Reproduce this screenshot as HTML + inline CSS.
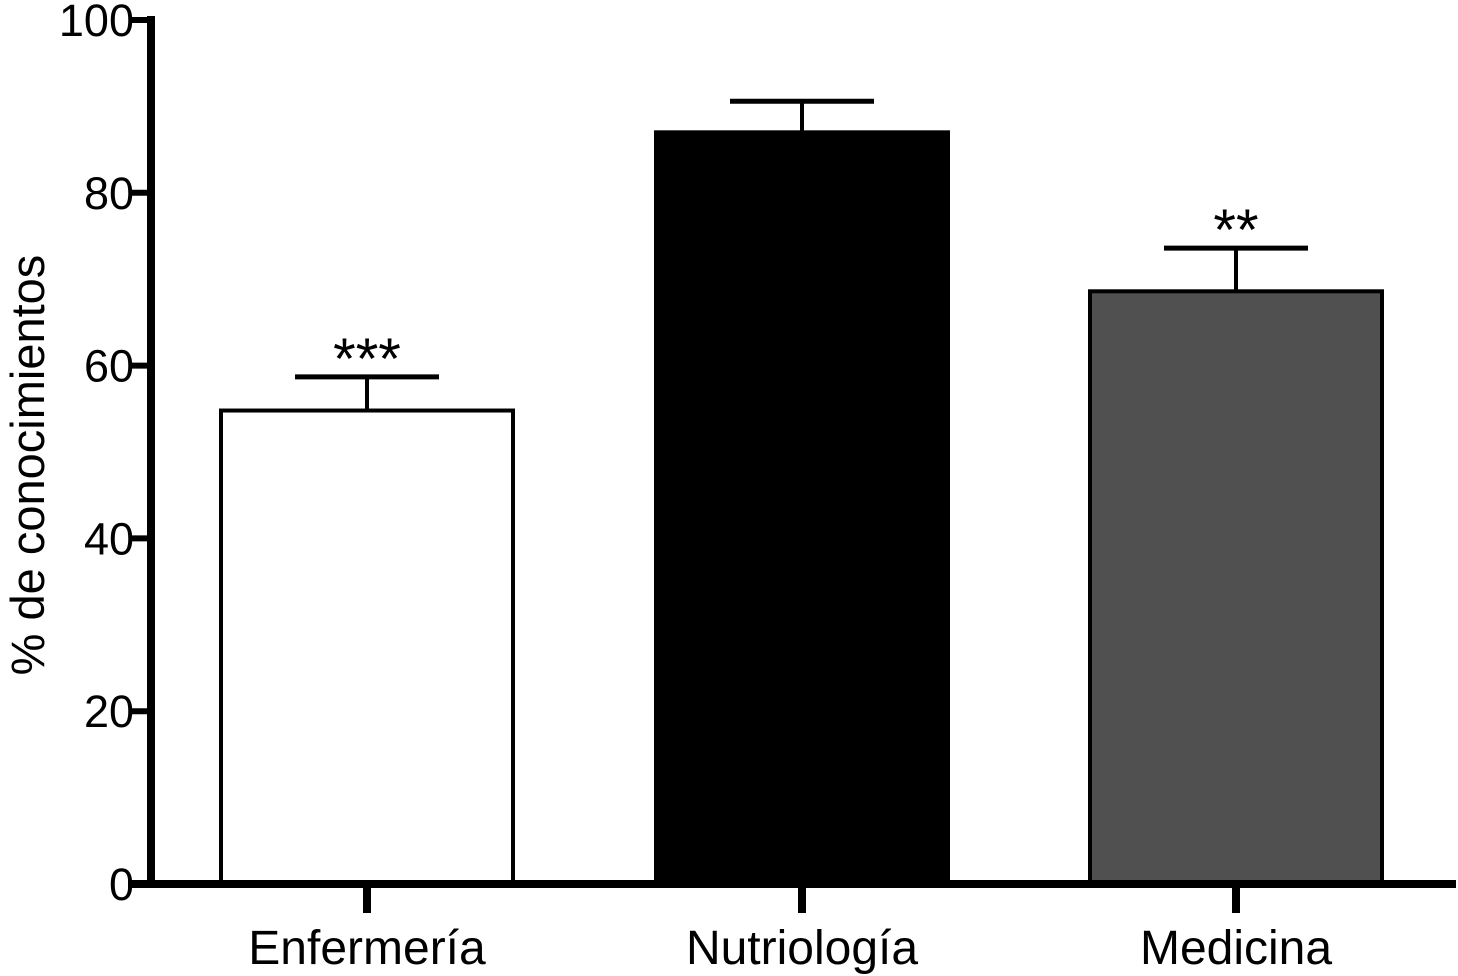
<!DOCTYPE html>
<html><head><meta charset="utf-8"><style>
html,body{margin:0;padding:0;background:#fff;}
svg{display:block;font-family:"Liberation Sans",Arial,sans-serif;}
</style></head><body>
<svg id="chart" width="1458" height="976" viewBox="0 0 1458 976"></svg>
<script>
const categories = ["Enfermería","Nutriología","Medicina"];
const values = [54.8, 87.0, 68.6];
const errors = [3.9, 3.6, 5.0];
const significance = ["***","","**"];
const fills = ["#ffffff","#000000","#505050"];
const yTicks = [0,20,40,60,80,100];

const svg = document.getElementById('chart');
const NS = 'http://www.w3.org/2000/svg';
const y0 = 884, y100 = 20;
function yScale(v){ return y0 - (y0 - y100) * v / 100; }
const centers = [367, 802, 1236];
const barW = 292;
function xScale(i){ return centers[i]; }
function mk(tag, attrs, parent){ const e = document.createElementNS(NS, tag); for (const k in attrs) e.setAttribute(k, attrs[k]); (parent||svg).appendChild(e); return e; }

categories.forEach((c,i)=>{
  const g = mk('g',{});
  
  
  const cx = xScale(i), top = yScale(values[i]), et = yScale(values[i]+errors[i]);
  const l = mk('line',{x1:cx,x2:cx,y1:top,y2:et,stroke:'#000','stroke-width':4},g);
  
  
  const cap = mk('line',{x1:cx-72,x2:cx+72,y1:et,y2:et,stroke:'#000','stroke-width':5},g);
  
  
  const r = mk('rect',{x:cx-barW/2,y:top,width:barW,height:y0-top,fill:fills[i],stroke:'#000','stroke-width':4},g);
  
  
  if (significance[i]) {
    const t = mk('text',{x:cx,y:et+2,'text-anchor':'middle','font-size':58},g);
    t.textContent = significance[i];
    
    
  }
  const xt = mk('line',{x1:cx,x2:cx,y1:y0,y2:913,stroke:'#000','stroke-width':8});
  
  
  const lab = mk('text',{x:cx,y:964,'text-anchor':'middle','font-size':48});
  lab.textContent = c;
  
  
});

const ya = mk('line',{x1:151,x2:151,y1:16,y2:888,stroke:'#000','stroke-width':8});


yTicks.forEach(v=>{
  const y = yScale(v);
  const t = mk('line',{x1:130,x2:155,y1:y,y2:y,stroke:'#000','stroke-width':6});
  
  
  const l = mk('text',{x:134,y:y+16,'text-anchor':'end','font-size':45});
  l.textContent = v;
  
  
});
const xa = mk('line',{x1:128,x2:1456,y1:y0,y2:y0,stroke:'#000','stroke-width':8});


const yt = mk('text',{x:0,y:0,'text-anchor':'middle','font-size':47,transform:'translate(44,465) rotate(-90)'});
yt.textContent = '% de conocimientos';


</script>
</body></html>
